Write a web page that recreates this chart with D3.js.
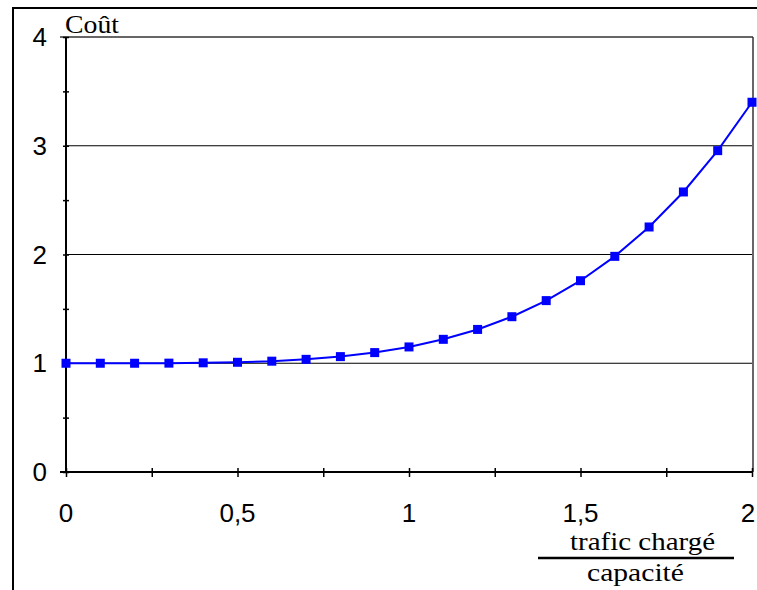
<!DOCTYPE html>
<html><head><meta charset="utf-8">
<script src="https://cdn.jsdelivr.net/npm/d3@7"></script>
<style>body{margin:0;background:#fff}svg{display:block}
.sans{font-family:"Liberation Sans",Arial,sans-serif}
.serif{font-family:"Liberation Serif","DejaVu Serif","Times New Roman",Times,serif}</style>
</head><body>
<script>
const ratios = [0,0.1,0.2,0.3,0.4,0.5,0.6,0.7,0.8,0.9,1.0,1.1,1.2,1.3,1.4,1.5,1.6,1.7,1.8,1.9,2.0];
const costs  = [1,1.000,1.000,1.001,1.004,1.009,1.019,1.036,1.061,1.098,1.15,1.22,1.311,1.428,1.576,1.759,1.983,2.253,2.575,2.955,3.4];
const xTickValues = [0,0.5,1,1.5,2];
const xTickLabels = ["0","0,5","1","1,5","2"];
const yTickValues = [0,1,2,3,4];
const yTitle = "Coût";
const xTitleTop = "trafic chargé";
const xTitleBottom = "capacité";

const W=757,H=590;
const svg=d3.select("body").append("svg").attr("width",W).attr("height",H);
const L=66,R=752,T=37,B=472;
const x=d3.scaleLinear().domain([0,2]).range([L,R]);
const y=d3.scaleLinear().domain([0,4]).range([B,T]);

// outer border
svg.append("rect").attr("x",13).attr("y",8).attr("width",760).attr("height",600)
  .attr("fill","none").attr("stroke","#000").attr("stroke-width",2);

// gridlines
svg.append("g").selectAll("line").data([1,2,3]).join("line")
  .attr("x1",L).attr("x2",R).attr("y1",d=>y(d)).attr("y2",d=>y(d))
  .attr("stroke","#000").attr("stroke-width",1.2);

// plot border top/right
svg.append("line").attr("x1",60).attr("x2",R+1).attr("y1",T).attr("y2",T).attr("stroke","#333").attr("stroke-width",1.5);
svg.append("line").attr("x1",R+1).attr("x2",R+1).attr("y1",T).attr("y2",B).attr("stroke","#333").attr("stroke-width",1.5);

// y axis
const yAxis=d3.axisLeft(y).tickValues(d3.range(0,4.01,0.5)).tickSize(3).tickFormat("");
const gy=svg.append("g").attr("transform",`translate(${L},0)`).call(yAxis);
gy.select(".domain").remove();
gy.selectAll(".tick line").attr("x1",-3).attr("x2",3).attr("stroke","#000").attr("stroke-width",1.5);
svg.append("line").attr("x1",L).attr("x2",L).attr("y1",T).attr("y2",B).attr("stroke","#000").attr("stroke-width",2);
svg.append("g").selectAll("text").data(yTickValues).join("text").attr("class","sans")
  .attr("x",47).attr("y",d=>y(d)+9).attr("text-anchor","end")
  .attr("font-size",26).text(d=>d);

// x axis
const xAxis=d3.axisBottom(x).tickValues(d3.range(0,2.001,0.25)).tickSize(5).tickFormat("");
const gx=svg.append("g").attr("transform",`translate(0,${B})`).call(xAxis);
gx.select(".domain").remove();
gx.selectAll(".tick line").attr("y1",-4).attr("y2",5).attr("stroke","#000").attr("stroke-width",1.5);
svg.append("line").attr("x1",L-6).attr("x2",R).attr("y1",B).attr("y2",B).attr("stroke","#000").attr("stroke-width",2);
svg.append("g").selectAll("text").data(xTickValues).join("text").attr("class","sans")
  .attr("x",d=>Math.min(x(d),W-9)).attr("y",522).attr("text-anchor","middle")
  .attr("font-size",26)
  .text((d,i)=>xTickLabels[i]);

// line + markers
const pts=ratios.map((r,i)=>[r,costs[i]]);
svg.append("path").datum(pts).attr("fill","none").attr("stroke","#0000ff").attr("stroke-width",2)
  .attr("d",d3.line().x(d=>x(d[0])).y(d=>y(d[1])));
svg.append("g").selectAll("rect").data(pts).join("rect")
  .attr("x",d=>x(d[0])-4.5).attr("y",d=>y(d[1])-4.5).attr("width",9).attr("height",9).attr("fill","#0000ff");

// titles
svg.append("text").attr("class","serif").attr("x",65).attr("y",33)
  .attr("font-size",26).attr("textLength",54).attr("lengthAdjust","spacingAndGlyphs").text(yTitle);
svg.append("text").attr("class","serif").attr("x",570).attr("y",550)
  .attr("font-size",26).attr("textLength",145).attr("lengthAdjust","spacingAndGlyphs").text(xTitleTop);
svg.append("line").attr("x1",538).attr("x2",734).attr("y1",558).attr("y2",558).attr("stroke","#000").attr("stroke-width",2.5);
svg.append("text").attr("class","serif").attr("x",587).attr("y",581)
  .attr("font-size",26).attr("textLength",97).attr("lengthAdjust","spacingAndGlyphs").text(xTitleBottom);
</script>
</body></html>
